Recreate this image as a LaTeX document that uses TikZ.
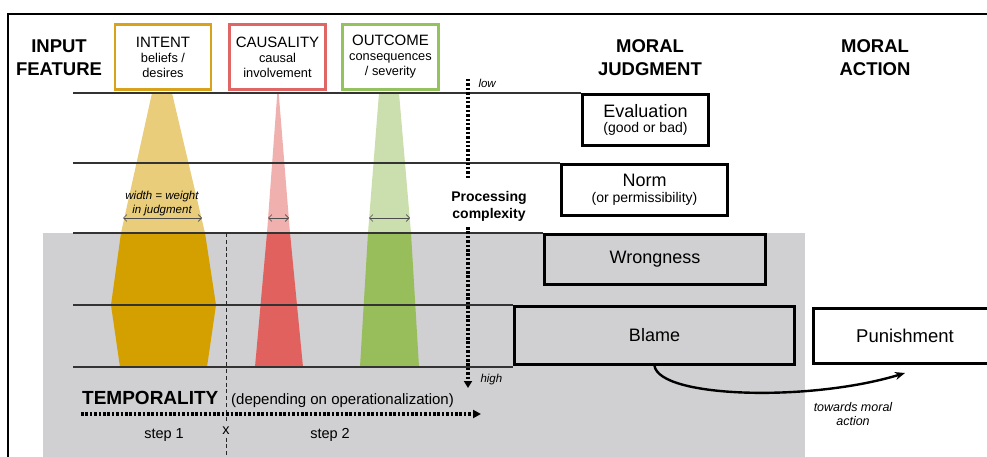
\documentclass[tikz,border=0pt]{standalone}
\usepackage{fontspec}
\setmainfont{Liberation Sans}
\usetikzlibrary{arrows.meta}
\definecolor{gold}{HTML}{D4A000}
\definecolor{goldline}{HTML}{D9A21B}
\definecolor{redf}{HTML}{E0615E}
\definecolor{redline}{HTML}{E06666}
\definecolor{greenf}{HTML}{97BE5B}
\definecolor{greenline}{HTML}{93C25E}
\definecolor{greybg}{HTML}{D0CFD1}
\tikzset{
  fbox/.style={draw, line width=2.7pt, fill=white, minimum width=96pt, minimum height=65pt, inner sep=0pt, align=center, font=\fontsize{12.8}{15}\selectfont},
  jbox/.style={draw=black, line width=2.8pt, inner sep=0pt, align=center, font=\fontsize{14}{15.5}\selectfont},
  title/.style={font=\fontsize{18.5}{23}\selectfont\bfseries, align=center},
  hline/.style={draw=black!80, line width=1.2pt},
  dotline/.style={line width=3.2pt, dash pattern=on 2.5pt off 1.9pt},
  warrow/.style={draw=black!70, line width=0.6pt, {Straight Barb[length=3.5pt,width=7pt]}-{Straight Barb[length=3.5pt,width=7pt]}},
  note/.style={font=\fontsize{11.5}{14}\selectfont\itshape, align=center},
}
\begin{document}
\begin{tikzpicture}[x=1pt,y=-1pt]
\useasboundingbox (0,0) rectangle (987,457);
\clip (0,0) rectangle (987,457);
% frame
\draw[line width=1.3pt] (8,460) -- (8,14) -- (990,14);
% grey region
\fill[greybg] (43,233) rectangle (805,460);
% weight shapes
\fill[gold, opacity=.52] (152,93) -- (172,93) -- (205,233) -- (121,233) -- cycle;
\fill[gold] (121,233) -- (205,233) -- (216,305) -- (207,367) -- (120,367) -- (111,305) -- cycle;
\fill[redf, opacity=.5] (277.3,93) -- (278.7,93) -- (290,233) -- (267,233) -- cycle;
\fill[redf] (267,233) -- (290,233) -- (303,367) -- (255,367) -- cycle;
\fill[greenf, opacity=.5] (379,93) -- (399,93) -- (411,233) -- (368,233) -- cycle;
\fill[greenf] (368,233) -- (411,233) -- (419,367) -- (360,367) -- cycle;
% input feature boxes
\node[fbox, draw=goldline] (intent) at (163,57) {{\fontsize{15}{15}\selectfont INTENT}\\beliefs /\\desires};
\node[fbox, draw=redline] (causal) at (277.5,57) {{\fontsize{15}{15}\selectfont CAUSALITY}\\causal\\involvement};
\node[fbox, draw=greenline] (outcome) at (390.5,57) {{\fontsize{15}{15}\selectfont OUTCOME}\\consequences\\/ severity};
% titles
\node[title] (inputf) at (59,58) {INPUT\\FEATURE};
\node[title] (moralj) at (650,58) {MORAL\\JUDGMENT};
\node[title] (morala) at (875,58) {MORAL\\ACTION};
% judgment boxes
\node[jbox, fill=white, minimum width=126pt, minimum height=51pt] (eval) at (645.5,120) {{\fontsize{18}{15.5}\selectfont Evaluation}\\(good or bad)};
\node[jbox, fill=white, minimum width=166pt, minimum height=51pt] (norm) at (644.5,190) {{\fontsize{18}{15.5}\selectfont Norm}\\(or permissibility)};
\node[jbox, minimum width=221pt, minimum height=50pt, font=\fontsize{18}{20}\selectfont] (wrong) at (655,259.5) {Wrongness};
\node[jbox, minimum width=280pt, minimum height=58pt, font=\fontsize{18}{20}\selectfont] (blame) at (654.5,335.5) {Blame};
\node[jbox, fill=white, minimum width=183pt, minimum height=55pt, font=\fontsize{18.5}{20}\selectfont] (punish) at (905,336) {Punishment};
% horizontal level lines
\coordinate (l1) at (73,93);
\coordinate (l2) at (73,163);
\coordinate (l3) at (73,233);
\coordinate (l4) at (73,305);
\coordinate (l5) at (73,367);
\draw[hline] (l1) -- (l1 -| eval.west);
\draw[hline] (l2) -- (l2 -| norm.west);
\draw[hline] (l3) -- (l3 -| wrong.west);
\draw[hline] (l4) -- (l4 -| blame.west);
\draw[hline] (l5) -- (l5 -| blame.west);
% width annotation
\node[note] (wnote) at (162,204) {width = weight\\in judgment};
\coordinate (wa1) at (123,218); \coordinate (wa2) at (202,218);
\coordinate (wb1) at (268,218); \coordinate (wb2) at (289,218);
\coordinate (wc1) at (369,218); \coordinate (wc2) at (410,218);
\draw[warrow] (wa1) -- (wa2);
\draw[warrow] (wb1) -- (wb2);
\draw[warrow] (wc1) -- (wc2);
% processing complexity
\coordinate (pctop) at (468,79);
\coordinate (pcup) at (468,178);
\coordinate (pclow) at (468,227);
\coordinate (pcbot) at (468,388);
\node[font=\fontsize{14}{17}\selectfont\bfseries, align=center] (pc) at (489,206) {Processing\\complexity};
\draw[dotline] (pctop) -- (pcup);
\draw[dotline, -{Triangle[length=7pt,width=8pt]}] (pclow) -- (pcbot);
\node[font=\fontsize{11.5}{13}\selectfont\itshape, anchor=base west] (low) at (475,88) {low};
\node[font=\fontsize{11.5}{13}\selectfont\itshape, anchor=base west] (high) at (477,382) {high};
% temporality
\coordinate (xt) at (226,233);
\node[font=\fontsize{14.5}{16}\selectfont, anchor=base] (xlab) at (226,434) {x};
\coordinate (xb) at (226,460);
\draw[black!85, line width=0.9pt, dash pattern=on 4pt off 2.8pt] (xt) -- (xlab.north);
\draw[black!85, line width=0.9pt, dash pattern=on 4pt off 2.8pt] (xlab.south) -- (xb);
\node[font=\fontsize{19}{20}\selectfont\bfseries, anchor=base west, inner sep=0pt] (temp) at (82,404) {TEMPORALITY};
\node[font=\fontsize{15}{16}\selectfont, anchor=base west, inner sep=0pt] (dep) at (231,404) {(depending on operationalization)};
\coordinate (ta) at (81,414);
\coordinate (tb) at (481,414);
\draw[dotline, -{Triangle[length=8pt,width=8pt]}] (ta) -- (tb);
\node[font=\fontsize{14.5}{16}\selectfont, anchor=base] (s1) at (164,438) {step 1};
\node[font=\fontsize{14.5}{16}\selectfont, anchor=base] (s2) at (330,438) {step 2};
% towards moral action
\coordinate (act) at (905,373);
\draw[line width=2.4pt, -{Stealth[length=10pt,width=8pt]}] (blame.south) .. controls (660,398) and (810,402) .. (act);
\node[font=\fontsize{12.5}{14}\selectfont\itshape, align=center] (tw) at (853,414) {towards moral\\action};
\end{tikzpicture}
\end{document}
